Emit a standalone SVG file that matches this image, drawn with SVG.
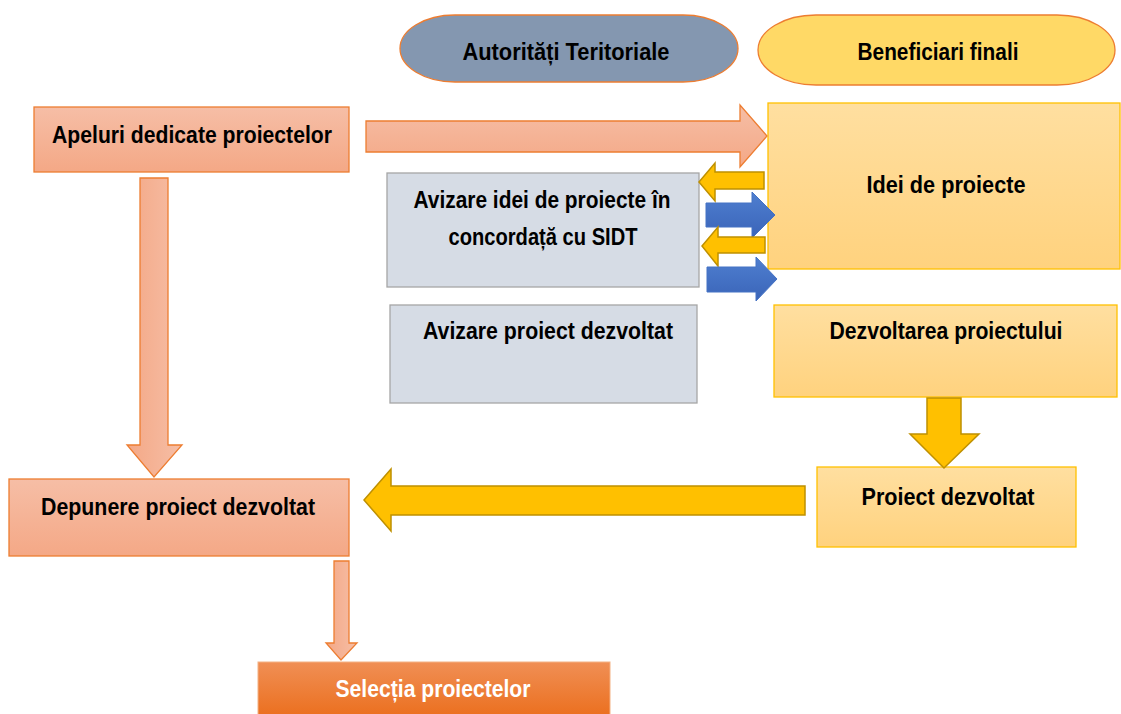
<svg xmlns="http://www.w3.org/2000/svg" width="1121" height="714" viewBox="0 0 1121 714">
<defs>
<linearGradient id="salmon" x1="0" y1="0" x2="0" y2="1"><stop offset="0" stop-color="#F6BEA6"/><stop offset="1" stop-color="#F4A886"/></linearGradient>
<linearGradient id="salmonH" x1="0" y1="0" x2="1" y2="0"><stop offset="0" stop-color="#F4A886"/><stop offset="1" stop-color="#F6BEA6"/></linearGradient>
<linearGradient id="gold" x1="0" y1="0" x2="0" y2="1"><stop offset="0" stop-color="#FFDFA0"/><stop offset="1" stop-color="#FFD27E"/></linearGradient>
<linearGradient id="orange" x1="0" y1="0" x2="0" y2="1"><stop offset="0" stop-color="#F08F55"/><stop offset="1" stop-color="#EB6F1E"/></linearGradient>
<linearGradient id="blue" x1="0" y1="0" x2="0" y2="1"><stop offset="0" stop-color="#4F7FD0"/><stop offset="1" stop-color="#3A64B8"/></linearGradient>
<style>
text{font-family:"Liberation Sans",Arial,sans-serif;font-weight:bold;font-size:23.5px;fill:#000}
.w{fill:#fff}
.sal{fill:url(#salmon);stroke:#ED7D31;stroke-width:1.3}
.salA{fill:url(#salmon);stroke:#ED7D31;stroke-width:1.3}
.gold{fill:url(#gold);stroke:#FFC000;stroke-width:1.3}
.grey{fill:#D6DCE5;stroke:#A6A6A6;stroke-width:1.3}
.ya{fill:#FFC000;stroke:#BF9000;stroke-width:1.5}
.ba{fill:url(#blue);stroke:#4472C4;stroke-width:1}
</style>
</defs>
<g id="autoritati">
<rect x="400" y="15" width="338" height="67" rx="55" ry="33.5" fill="#8497B0" stroke="#ED7D31" stroke-width="1.3"/>
<text x="566" y="60" text-anchor="middle" textLength="207" lengthAdjust="spacingAndGlyphs">Autorități Teritoriale</text>
</g>
<g id="beneficiari">
<rect x="758" y="15" width="357" height="70" rx="58" ry="35" fill="#FFD966" stroke="#ED7D31" stroke-width="1.3"/>
<text x="938" y="60" text-anchor="middle" textLength="161" lengthAdjust="spacingAndGlyphs">Beneficiari finali</text>
</g>
<g id="apeluri">
<rect x="34" y="107" width="315" height="65" class="sal"/>
<text x="192" y="143" text-anchor="middle" textLength="280" lengthAdjust="spacingAndGlyphs">Apeluri dedicate proiectelor</text>
</g>
<g id="idei">
<rect x="768" y="103" width="352" height="166" class="gold"/>
<text x="946" y="193" text-anchor="middle" textLength="159" lengthAdjust="spacingAndGlyphs">Idei de proiecte</text>
</g>
<g id="avizare-idei">
<rect x="387" y="173" width="312" height="114" class="grey"/>
<text x="542" y="208" text-anchor="middle" textLength="257" lengthAdjust="spacingAndGlyphs">Avizare idei de proiecte în</text>
<text x="543" y="245" text-anchor="middle" textLength="189" lengthAdjust="spacingAndGlyphs">concordață cu SIDT</text>
</g>
<g id="avizare-proiect">
<rect x="390" y="305" width="307" height="98" class="grey"/>
<text x="548" y="339" text-anchor="middle" textLength="250" lengthAdjust="spacingAndGlyphs">Avizare proiect dezvoltat</text>
</g>
<g id="dezvoltarea">
<rect x="774" y="305" width="343" height="92" class="gold"/>
<text x="946" y="339" text-anchor="middle" textLength="233" lengthAdjust="spacingAndGlyphs">Dezvoltarea proiectului</text>
</g>
<g id="proiect-dezvoltat">
<rect x="817" y="467" width="259" height="80" class="gold"/>
<text x="948" y="505" text-anchor="middle" textLength="173" lengthAdjust="spacingAndGlyphs">Proiect dezvoltat</text>
</g>
<g id="depunere">
<rect x="9" y="479" width="340" height="77" class="sal"/>
<text x="178" y="515" text-anchor="middle" textLength="274" lengthAdjust="spacingAndGlyphs">Depunere proiect dezvoltat</text>
</g>
<g id="selectia">
<rect x="258" y="662" width="352" height="55" fill="url(#orange)" stroke="#F4B183" stroke-width="1"/>
<text x="433" y="697" text-anchor="middle" class="w" textLength="195" lengthAdjust="spacingAndGlyphs">Selecția proiectelor</text>
</g>
<g id="connectors">
<path class="salA" d="M366 121 H740 V105 L767 136 L740 167 V152 H366 Z"/>
<path fill="url(#salmonH)" stroke="#ED7D31" stroke-width="1.3" d="M140 178 H168 V445 H182 L154 477 L127 445 H140 Z"/>
<path fill="url(#salmonH)" stroke="#ED7D31" stroke-width="1.3" d="M334 561 H349 V643 H357 L341 660 L326 643 H334 Z"/>
<path class="ya" d="M764 172 V189 H715 V201 L699 182 L715 163 V172 Z"/>
<path class="ba" d="M706 203 H752 V192 L775 215 L752 238 V227 H706 Z"/>
<path class="ya" d="M765 237 V253 H718 V266 L702 246 L718 227 V237 Z"/>
<path class="ba" d="M707 267 H756 V257 L777 279 L756 301 V292 H707 Z"/>
<path class="ya" d="M927 398 H961 V434 H979 L944 468 L910 434 H927 Z"/>
<path class="ya" d="M805 486 V515 H391 V531 L364 500 L391 469 V486 Z"/>
</g>
</svg>
